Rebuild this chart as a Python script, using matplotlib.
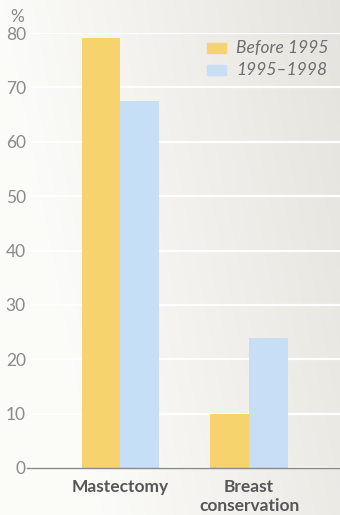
import numpy as np
import matplotlib
matplotlib.use("Agg")
import matplotlib.pyplot as plt
from matplotlib.patches import Rectangle
from matplotlib.lines import Line2D

categories = ["Mastectomy", "Breast\nconservation"]
series_names = ["Before 1995", "1995\u20131998"]
before_1995 = [79, 10]
from_1995 = [67.5, 24]
y_ticks = [0, 10, 20, 30, 40, 50, 60, 70, 80]

yellow = "#f6d36c"
blue = "#c6def6"
grey_txt = "#8a8a8a"

plt.rcParams["font.family"] = ["Lato", "DejaVu Sans"]

fig = plt.figure(figsize=(3.4, 5.15), dpi=100)

# paper-like background: white on the left fading to warm grey on the right
bg = fig.add_axes([0, 0, 1, 1], zorder=-10)
xx = np.linspace(0, 1, 200)
yy = np.linspace(0, 1, 300)
gx, gy = np.meshgrid(xx, yy)
shade = np.clip(gx * 0.85 + gy * 0.25 - 0.25, 0, 1)
c0 = np.array([0.985, 0.985, 0.975])
c1 = np.array([0.885, 0.875, 0.850])
img = c0 + shade[..., None] * (c1 - c0)
bg.imshow(img, extent=[0, 1, 0, 1], origin="lower", aspect="auto")
bg.set_axis_off()

ax = fig.add_axes([30 / 340, 1 - 468 / 515, 310 / 340, 435 / 515])
ax.set_facecolor("none")

x = np.arange(len(categories))
w = 0.30
ax.bar(x - w / 2, before_1995, width=w, color=yellow, zorder=3, label=series_names[0])
ax.bar(x + w / 2, from_1995, width=w, color=blue, zorder=3, label=series_names[1])

ax.set_xlim(-0.70, 1.705)
ax.set_ylim(0, 80)
ax.set_yticks(y_ticks)
ax.yaxis.grid(True, color="white", linewidth=1.6, zorder=1)
ax.set_axisbelow(True)

for side in ["top", "right", "left", "bottom"]:
    ax.spines[side].set_visible(False)

# baseline runs a little past the y labels
fig.lines.append(Line2D([27 / 340, 1], [1 - 468 / 515] * 2, transform=fig.transFigure,
                        color="#8a8a8a", linewidth=1.0))

ax.tick_params(axis="y", length=0, pad=3, labelsize=12.5, labelcolor=grey_txt)
ax.tick_params(axis="x", length=0, pad=8)
ax.set_xticks(x)
ax.set_xticklabels(categories, fontsize=12.5, fontweight="bold", color="#575757",
                   linespacing=1.22)

fig.text(17 / 340, 1 - 17 / 515, "%", ha="center", va="center",
         fontsize=12.5, color=grey_txt)

# legend drawn as swatches with italic labels
for i, (name, col) in enumerate(zip(series_names, [yellow, blue])):
    yc = 1 - (48 + i * 22) / 515
    fig.patches.append(Rectangle((207 / 340, yc - 5 / 515), 19 / 340, 10 / 515,
                                 transform=fig.transFigure, color=col))
    fig.text(236 / 340, yc, name, ha="left", va="center", fontsize=12.5,
             style="italic", color="#6e6e6e")

fig.savefig("out.png", dpi=100)
